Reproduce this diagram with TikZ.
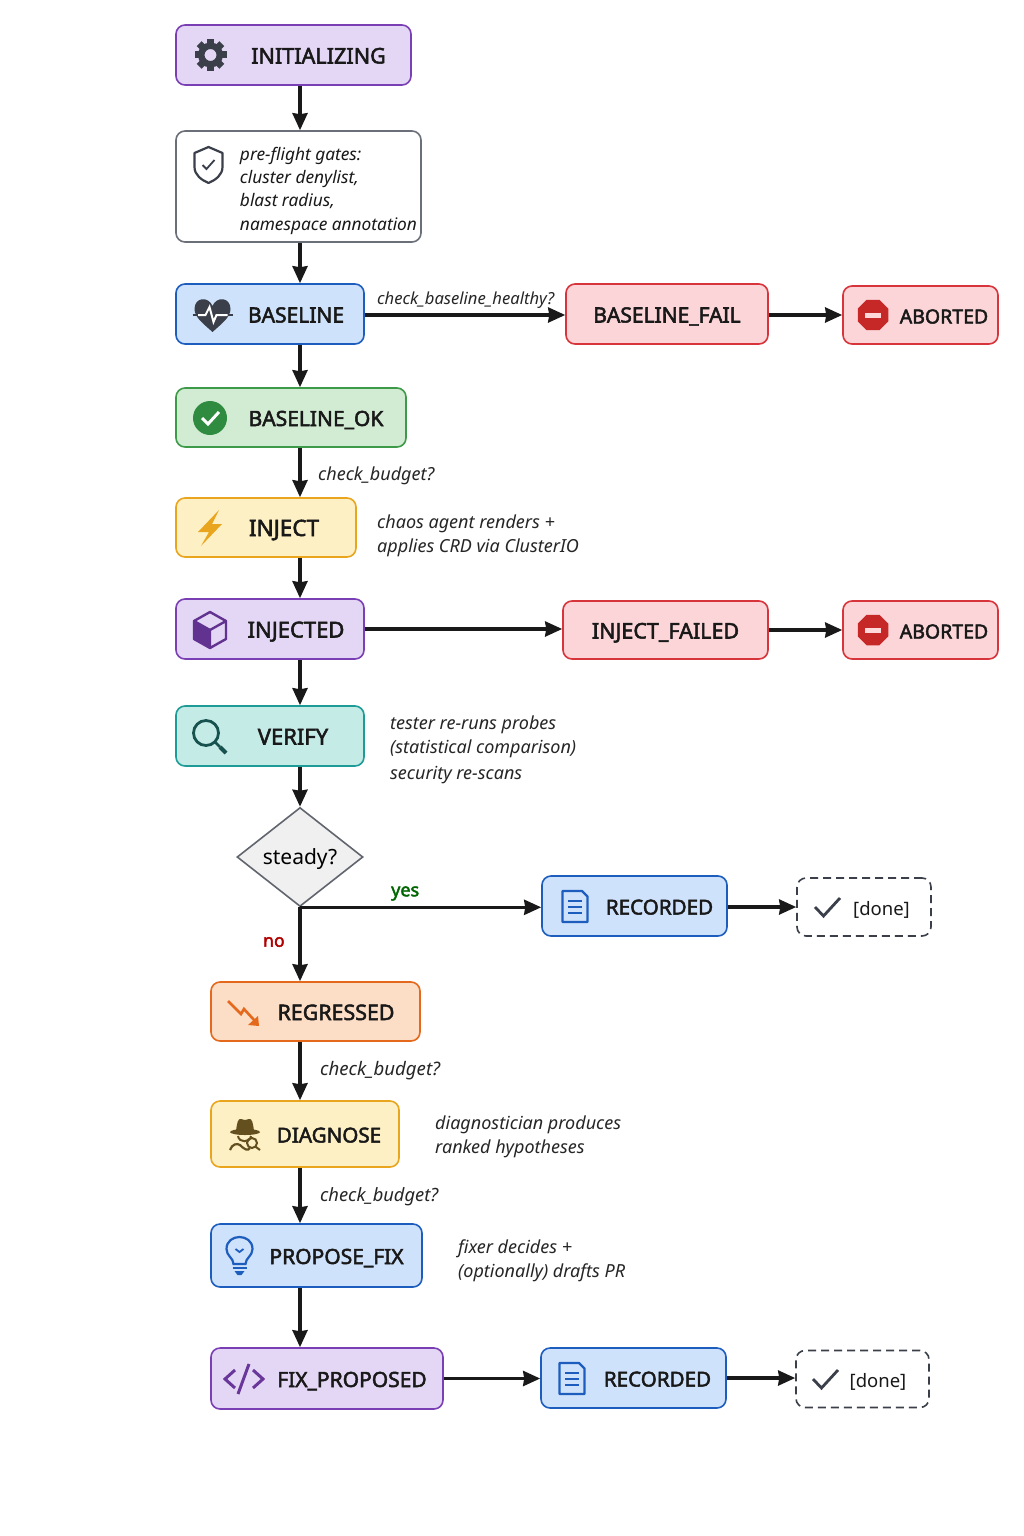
\documentclass[tikz,border=0pt]{standalone}
\usepackage{fontspec}
\setmainfont{Noto Sans}[AutoFakeBold=2.4]
\usetikzlibrary{arrows.meta,shapes.geometric}
\newcommand{\lpad}[1]{\hspace*{#1pt}}
\newcommand{\sz}[1]{\fontsize{#1}{25}\selectfont\bfseries}
\definecolor{icondark}{HTML}{3A3F4A}
\definecolor{violetfill}{HTML}{E4D7F5}
\definecolor{violetline}{HTML}{7B3FB5}
\definecolor{bluefill}{HTML}{CFE2FB}
\definecolor{blueline}{HTML}{1C5DBE}
\definecolor{greenfill}{HTML}{D2ECD3}
\definecolor{greenline}{HTML}{3C9A48}
\definecolor{yellowfill}{HTML}{FDF0C4}
\definecolor{yellowline}{HTML}{E9A51E}
\definecolor{tealfill}{HTML}{C5EBE7}
\definecolor{tealline}{HTML}{1D9C97}
\definecolor{redfill}{HTML}{FBD5D7}
\definecolor{redline}{HTML}{D8343C}
\definecolor{orangefill}{HTML}{FCDDC6}
\definecolor{orangeline}{HTML}{E5691C}
\definecolor{okgreen}{HTML}{2E8B3F}
\definecolor{stopred}{HTML}{C62828}
\definecolor{spybrown}{HTML}{64501F}
\definecolor{lensteal}{HTML}{17524F}
\tikzstyle{every picture}+=[>={Stealth[length=17pt,width=15pt,inset=1pt]}]
\tikzstyle{statebox}=[rectangle,rounded corners=9pt,line width=1.6pt,inner sep=0pt,text=black!90]
\tikzstyle{state}=[statebox,text height=17pt,text depth=0pt,font=\sz{21}]
\tikzstyle{violetstate}=[state,draw=violetline,fill=violetfill]
\tikzstyle{bluestate}=[state,draw=blueline,fill=bluefill]
\tikzstyle{greenstate}=[state,draw=greenline,fill=greenfill]
\tikzstyle{yellowstate}=[state,draw=yellowline,fill=yellowfill]
\tikzstyle{tealstate}=[state,draw=tealline,fill=tealfill]
\tikzstyle{redstate}=[state,draw=redline,fill=redfill]
\tikzstyle{orangestate}=[state,draw=orangeline,fill=orangefill]
\tikzstyle{finalstate}=[state,text height=16pt,draw=icondark,dashed,dash pattern=on 8pt off 5pt,fill=white,font=\fontsize{18.5}{25}\selectfont]
\tikzstyle{note}=[anchor=west,inner sep=0pt,align=left,text=black!85,font=\fontsize{18}{24}\selectfont\itshape]
\tikzstyle{flow}=[->,line width=3.2pt,draw=black!90]
\tikzset{
  gearicon/.pic={
    \foreach \a in {0,45,...,315} \fill[icondark,rotate=\a] (-3.5,-16) rectangle (3.5,-9);
    \fill[icondark,even odd rule] (0,0) circle (12.5) (0,0) circle (6);
  },
  shieldicon/.pic={
    \draw[icondark,line width=2.2pt,line join=round] (0,-18) -- (14,-12) -- (14,2) .. controls (14,10) and (7,15) .. (0,18)
      .. controls (-7,15) and (-14,10) .. (-14,2) -- (-14,-12) -- cycle;
    \draw[icondark,line width=1.8pt] (-6,0) -- (-2,4) -- (6,-5);
  },
  hearticon/.pic={
    \fill[icondark] (0,17) .. controls (-10,8) and (-18,2) .. (-18,-6) .. controls (-18,-18) and (-4,-19) .. (0,-9)
      .. controls (4,-19) and (18,-18) .. (18,-6) .. controls (18,2) and (10,8) .. (0,17) -- cycle;
    \draw[white,line width=2pt] (-15,0) -- (-7,0) -- (-3,-8) -- (1,7) -- (4,0) -- (15,0);
    \draw[icondark,line width=2pt] (-20,0) -- (-15,0) (15,0) -- (20,0);
  },
  okicon/.pic={
    \fill[okgreen] (0,0) circle (17);
    \draw[white,line width=3pt] (-8,0) -- (-2,6) -- (9,-6);
  },
  bolticon/.pic={
    \fill[yellowline] (9,-18) -- (-12,4) -- (-1,4) -- (-9,18) -- (12,-4) -- (2,-4) -- cycle;
  },
  cubeicon/.pic={
    \fill[violetline!80!black] (-16,-9) -- (0,0) -- (0,18) -- (-16,9) -- cycle;
    \draw[violetline!80!black,line width=2.4pt,line join=round] (0,-18) -- (16,-9) -- (16,9) -- (0,18) -- (-16,9) -- (-16,-9) -- cycle
      (-16,-9) -- (0,0) -- (16,-9) (0,0) -- (0,18);
  },
  lensicon/.pic={
    \draw[lensteal,line width=2.8pt] (0,0) circle (12.5);
    \draw[lensteal,line width=2.6pt] (9,9) -- (14,14);
    \draw[lensteal,line width=4pt] (14,14) -- (20,20);
  },
  docicon/.pic={
    \draw[blueline,line width=2.4pt,line join=round] (-12.5,-15.5) -- (7,-15.5) -- (12.5,-10) -- (12.5,15.5) -- (-12.5,15.5) -- cycle;
    \foreach \y in {-5.5,0,6} \draw[blueline,line width=2pt] (-7,\y) -- (7,\y);
  },
  stopicon/.pic={
    \fill[stopred] (22.5:16.5) -- (67.5:16.5) -- (112.5:16.5) -- (157.5:16.5) -- (202.5:16.5) -- (247.5:16.5) -- (292.5:16.5) -- (337.5:16.5) -- cycle;
    \fill[white!85!red] (-8,-2.5) rectangle (8,2.5);
  },
  tickicon/.pic={
    \draw[icondark,line width=2.8pt] (-12,0) -- (-3.5,9) -- (13,-9);
  },
  trendicon/.pic={
    \draw[orangeline,line width=2.6pt] (-15,-12) -- (-2,1) -- (1,-4) -- (12,8);
    \fill[orangeline] (16,13) -- (15,3) -- (5,12) -- cycle;
  },
  spyicon/.pic={
    \fill[spybrown] (-9,-4) .. controls (-8,-12) and (-7,-17) .. (-4,-16) -- (0,-15) -- (4,-16) .. controls (7,-17) and (8,-12) .. (9,-4) -- cycle;
    \fill[spybrown] (0,-3) ellipse (15 and 3);
    \draw[spybrown,line width=2pt] (-7,1) .. controls (-6,8) and (5,8) .. (6,1);
    \draw[spybrown,line width=2.2pt] (-15,15) .. controls (-13,9) and (-8,8) .. (-5,10) .. controls (0,15) and (3,16) .. (5,13);
    \draw[spybrown,line width=2pt] (7,8) circle (5) (11,12) -- (15,15);
  },
  bulbicon/.pic={
    \draw[blueline,line width=2.2pt] (-6,9) .. controls (-6,3) and (-13,1) .. (-13,-6) .. controls (-13,-22) and (13,-22) .. (13,-6)
      .. controls (13,1) and (6,3) .. (6,9) -- cycle;
    \draw[blueline,line width=1.8pt] (-4,-6) -- (0,-3) -- (4,-6);
    \draw[blueline,line width=2.4pt] (-7,13) -- (7,13);
    \fill[blueline] (-5,16) -- (5,16) -- (2,20) -- (-2,20) -- cycle;
  },
  codeicon/.pic={
    \draw[violetline!85!black,line width=3pt] (-9,-9) -- (-19,0) -- (-9,9) (9,-9) -- (19,0) -- (9,9) (5,-15) -- (-6,15);
  }
}
\begin{document}
\begin{tikzpicture}[x=1pt,y=-1pt]
\useasboundingbox[fill=white] (0,0) rectangle (1024,1536);
\coordinate (spine) at (300,0);
\node[violetstate,minimum width=235,minimum height=60,font=\sz{21.6}] (initializing) at (293.5,55) {\lpad{50}INITIALIZING};
\node[statebox,draw=icondark!75,fill=white,minimum width=245,minimum height=111,text height=60pt,text depth=43pt,font=\fontsize{17.3}{23.3}\selectfont\itshape] (gates) at (298.5,186.5)
  {\lpad{60}\begin{tabular}{@{}l@{}}pre-flight gates:\\ cluster denylist,\\ blast radius,\\ namespace annotation\end{tabular}};
\node[bluestate,minimum width=188,minimum height=60] (baseline) at (270,314) {\lpad{52}BASELINE};
\node[redstate,minimum width=202,minimum height=60] (baselinefail) at (667,314) {BASELINE\_FAIL};
\node[redstate,minimum width=155,minimum height=58,font=\sz{19.5}] (abortedone) at (920.5,315) {\lpad{47}ABORTED};
\node[greenstate,minimum width=230,minimum height=59] (baselineok) at (291,417.5) {\lpad{50}BASELINE\_OK};
\node[yellowstate,minimum width=180,minimum height=59,font=\sz{22.5}] (inject) at (266,527.5) {\lpad{36}INJECT};
\node[violetstate,minimum width=188,minimum height=60,font=\sz{22}] (injected) at (270,629) {\lpad{52}INJECTED};
\node[redstate,minimum width=205,minimum height=58,font=\sz{21.5}] (injectfailed) at (665.5,630) {INJECT\_FAILED};
\node[redstate,minimum width=155,minimum height=58,font=\sz{19.5}] (abortedtwo) at (920.5,630) {\lpad{47}ABORTED};
\node[tealstate,minimum width=188,minimum height=60,font=\sz{22}] (verify) at (270,736) {\lpad{46}VERIFY};
\node[diamond,draw=icondark!80,fill=black!6,line width=1.6pt,aspect=1.27,inner sep=0pt,minimum width=126,minimum height=99,text height=18pt,text depth=4pt,font=\fontsize{21}{24}\selectfont] (steady) at (300,857) {steady?};
\node[bluestate,minimum width=185,minimum height=60,font=\sz{20.6}] (recordedone) at (634.5,906) {\lpad{50}RECORDED};
\node[finalstate,minimum width=134,minimum height=58] (doneone) at (864,907) {\lpad{35}[done]};
\node[orangestate,minimum width=209,minimum height=59,font=\sz{21.4}] (regressed) at (315.5,1011.5) {\lpad{41}REGRESSED};
\node[yellowstate,minimum width=188,minimum height=66,font=\sz{20.6}] (diagnose) at (305,1134) {\lpad{48}DIAGNOSE};
\node[bluestate,minimum width=211,minimum height=63] (proposefix) at (316.5,1255.5) {\lpad{40}PROPOSE\_FIX};
\node[violetstate,minimum width=232,minimum height=61] (fixproposed) at (327,1378.5) {\lpad{50}FIX\_PROPOSED};
\node[bluestate,minimum width=185,minimum height=60,font=\sz{20.6}] (recordedtwo) at (633.5,1378) {\lpad{48}RECORDED};
\node[finalstate,minimum width=133,minimum height=57] (donetwo) at (862.5,1379) {\lpad{31}[done]};
\pic at (210.5,55) {gearicon};
\pic at (208.5,165) {shieldicon};
\pic at (212.5,315) {hearticon};
\pic at (210,418) {okicon};
\pic at (210,528) {bolticon};
\pic at (210,630) {cubeicon};
\pic at (206,733) {lensicon};
\pic at (873,315) {stopicon};
\pic at (873,630) {stopicon};
\pic at (575,906.5) {docicon};
\pic at (827,907) {tickicon};
\pic at (243,1013) {trendicon};
\pic at (245,1135) {spyicon};
\pic at (239.5,1255) {bulbicon};
\pic at (244,1379) {codeicon};
\pic at (572,1378.5) {docicon};
\pic at (825,1379) {tickicon};
\node[note,font=\fontsize{16.6}{24}\selectfont\itshape] (baselinequestion) at (377,300) {check\_baseline\_healthy?};
\node[note] (budgetone) at (318,476) {check\_budget?};
\node[note] (chaosnote) at (377,536) {chaos agent renders +\\applies CRD via ClusterIO};
\node[note] (testernote) at (390,750) {tester re-runs probes\\(statistical comparison)\\[2pt]security re-scans};
\node[anchor=west,inner sep=0pt,text=green!40!black,font=\fontsize{18}{20}\selectfont\bfseries] (yeslabel) at (391,893.5) {yes};
\node[anchor=west,inner sep=0pt,text=red!70!black,font=\fontsize{17.5}{20}\selectfont\bfseries] (nolabel) at (263,942) {no};
\node[note,font=\fontsize{18.6}{24}\selectfont\itshape] (budgettwo) at (320,1071) {check\_budget?};
\node[note] (diagnosenote) at (435,1137) {diagnostician produces\\ranked hypotheses};
\node[note,font=\fontsize{18.3}{24}\selectfont\itshape] (budgetthree) at (320,1197) {check\_budget?};
\node[note] (fixernote) at (458,1261) {fixer decides +\\(optionally) drafts PR};
\draw[flow] (initializing.south -| spine) -- (gates.north -| spine);
\draw[flow] (gates.south -| spine) -- (baseline.north -| spine);
\draw[flow] (abortedone.west -| baseline.east) -- (abortedone.west -| baselinefail.west);
\draw[flow] (abortedone.west -| baselinefail.east) -- (abortedone.west);
\draw[flow] (baseline.south -| spine) -- (baselineok.north -| spine);
\draw[flow] (baselineok.south -| spine) -- (inject.north -| spine);
\draw[flow] (inject.south -| spine) -- (injected.north -| spine);
\draw[flow] (injected.east) -- (injected.east -| injectfailed.west);
\draw[flow] (injectfailed.east) -- (abortedtwo.west);
\draw[flow] (injected.south -| spine) -- (verify.north -| spine);
\draw[flow] (verify.south -| spine) -- (steady.north);
\draw[flow] (steady.south) -- (steady.south -| recordedone.west);
\draw[flow] (doneone.west -| recordedone.east) -- (doneone.west);
\draw[flow] (steady.south) -- (regressed.north -| spine);
\draw[flow] (regressed.south -| spine) -- (diagnose.north -| spine);
\draw[flow] (diagnose.south -| spine) -- (proposefix.north -| spine);
\draw[flow] (proposefix.south -| spine) -- (fixproposed.north -| spine);
\draw[flow] (fixproposed.east) -- (fixproposed.east -| recordedtwo.west);
\draw[flow] (recordedtwo.east) -- (recordedtwo.east -| donetwo.west);
\end{tikzpicture}
\end{document}
